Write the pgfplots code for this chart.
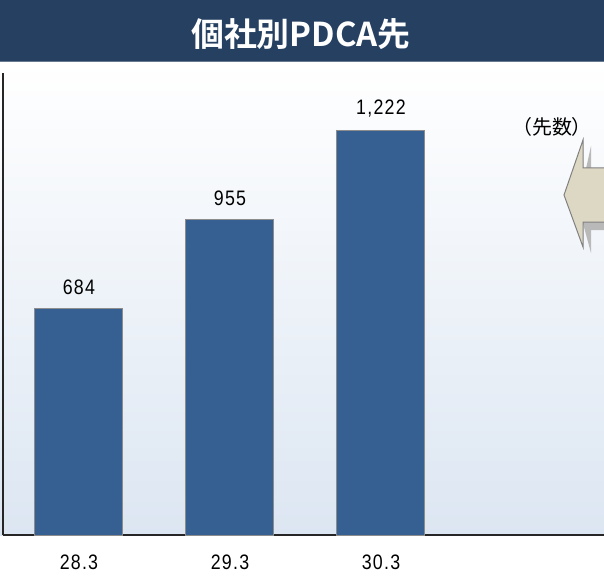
\documentclass[border=0pt]{standalone}
\usepackage{fontspec}
\setmainfont{Liberation Sans}
\newfontfamily\numfont{Liberation Sans}[FakeStretch=0.85, LetterSpace=6]
\newfontfamily\cjk{Noto Sans CJK JP}
\newfontfamily\cjkb{Noto Sans CJK JP Bold}
\usepackage{pgfplots}
\pgfplotsset{compat=1.18}
\definecolor{banner}{RGB}{38,64,98}
\definecolor{barblue}{RGB}{54,96,145}
\definecolor{bglow}{RGB}{220,230,242}
\definecolor{arrowfill}{RGB}{221,216,196}
\begin{document}
\begin{tikzpicture}[x=1bp,y=-1bp]
\useasboundingbox (0,0) rectangle (604,577);
% background gradient
\shade[top color=white, bottom color=bglow] (0,62) rectangle (604,535);
% title banner
\fill[banner] (0,0) rectangle (604,62);
\draw[banner!70!white, line width=1bp] (0,61.5) -- (604,61.5);
\node[text=white, font=\cjkb\fontsize{33}{36}\selectfont] at (301,34) {個社別PDCA先};
\begin{axis}[
  at={(3bp,-535bp)}, anchor=south west,
  scale only axis, width=601bp, height=462bp,
  xmin=-0.503, xmax=3.477, ymin=0, ymax=1397,
  axis x line=bottom, axis y line=left,
  axis line style={-, line width=1.8bp, draw=black!85},
  ytick=\empty,
  xtick={0,1,2}, xticklabels={28.3,29.3,30.3},
  xtick style={draw=none},
  xticklabel style={font=\numfont\fontsize{21}{24}\selectfont, text=black, yshift=-12bp},
  ybar, bar width=88bp,
  /pgf/number format/assume math mode=true,
  nodes near coords={\pgfmathprintnumber[1000 sep={,}]{\pgfplotspointmeta}},
  nodes near coords style={font=\numfont\fontsize{21}{24}\selectfont, yshift=10bp},
  clip=false,
]
\addplot[fill=barblue, draw=black!45, line width=1bp] coordinates {(0,684) (1,955) (2,1222)};
\end{axis}
% label
\node[font=\cjk\fontsize{20}{22}\selectfont] at (552,127) {（先数）};
% arrow shadow
\fill[gray!55] (591,146) -- (591,176) -- (604,176) -- (604,230) -- (591,230) -- (591,253) -- (578,205) -- cycle;
% arrow
\filldraw[fill=arrowfill, draw=gray, line width=1bp] (583,140) -- (583,168) -- (605,168) -- (605,222) -- (583,222) -- (583,247) -- (564,195) -- cycle;
\end{tikzpicture}
\end{document}
